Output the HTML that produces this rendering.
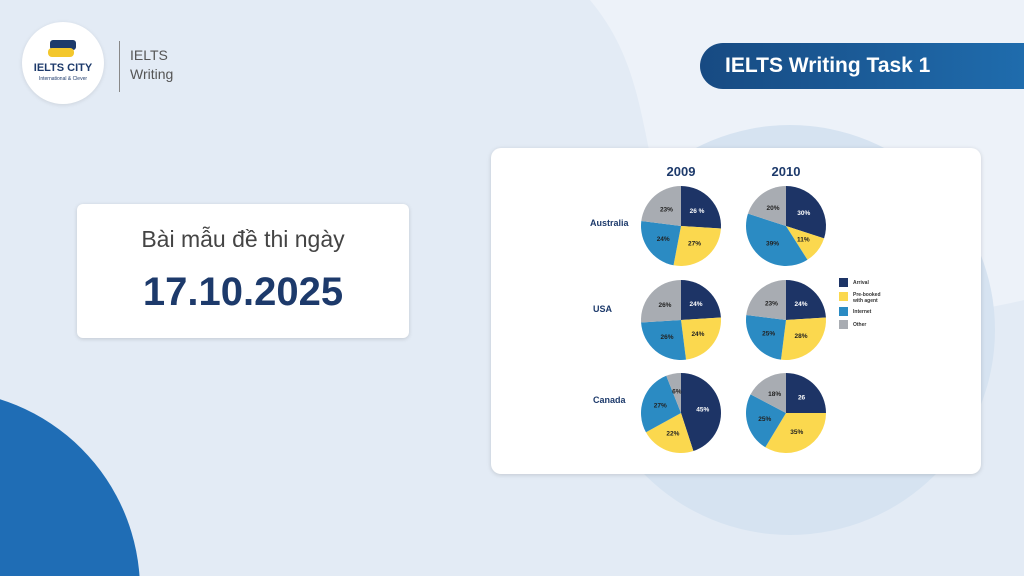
<!DOCTYPE html>
<html style="overflow:hidden"><head><meta charset="utf-8"><style>
html,body{margin:0;width:1024px;height:576px;overflow:hidden}
body{position:relative;background:#e3ebf5;font-family:"Liberation Sans",sans-serif}
.abs{position:absolute}
</style></head><body>
<svg class="abs" style="left:0;top:0" width="1024" height="576">
<path d="M590 0 C640 60 640 120 660 200 C700 330 900 330 1024 300 L1024 0 Z" fill="#edf2f9"/>
<circle cx="790" cy="330" r="205" fill="#d6e3f1"/>
<circle cx="-60" cy="590" r="200" fill="#1f6db5"/>
</svg>
<div class="abs" style="left:22px;top:22px;width:82px;height:82px;border-radius:50%;background:#fff;box-shadow:0 1px 4px rgba(0,0,0,.1)">
 <div class="abs" style="left:28px;top:18px;width:26px;height:10px;background:#1d3a6b;border-radius:3px"></div>
 <div class="abs" style="left:26px;top:26px;width:26px;height:9px;background:#f3c72c;border-radius:4px"></div>
 <div class="abs" style="left:0;top:40px;width:82px;text-align:center;font-weight:bold;font-size:11px;color:#1d3a6b">IELTS CITY</div>
 <div class="abs" style="left:0;top:54px;width:82px;text-align:center;font-size:5px;color:#1d3a6b">International &amp; Clever</div>
</div>
<div class="abs" style="left:119px;top:41px;width:1px;height:51px;background:#888"></div>
<div class="abs" style="left:130px;top:46px;font-size:14px;line-height:19px;color:#555">IELTS<br>Writing</div>
<div class="abs" style="left:700px;top:43px;width:324px;height:46px;border-radius:23px 0 0 23px;background:linear-gradient(90deg,#174a82,#1f6cad)"></div>
<div class="abs" style="left:725px;top:54px;font-size:21px;font-weight:bold;color:#fff">IELTS Writing Task 1</div>
<div class="abs" style="left:77px;top:204px;width:332px;height:134px;background:#fff;border-radius:6px;box-shadow:0 1px 4px rgba(0,0,0,.15)">
 <div class="abs" style="left:0;top:22px;width:332px;text-align:center;font-size:23px;color:#444">Bài mẫu đề thi ngày</div>
 <div class="abs" style="left:0;top:66px;width:332px;text-align:center;font-size:40px;font-weight:bold;color:#1d3a6b">17.10.2025</div>
</div>
<div class="abs" style="left:491px;top:148px;width:490px;height:326px;background:#fff;border-radius:10px;box-shadow:0 1px 5px rgba(0,0,0,.15)"></div>
<svg id="ch" class="abs" style="left:0;top:0" width="1024" height="576" font-family="Liberation Sans" font-weight="bold">
<text x="681" y="176" text-anchor="middle" font-size="13" fill="#1d3a6b">2009</text>
<text x="786" y="176" text-anchor="middle" font-size="13" fill="#1d3a6b">2010</text>
<text x="590" y="226" font-size="9" fill="#1d3a6b">Australia</text>
<text x="593" y="312" font-size="9" fill="#1d3a6b">USA</text>
<text x="593" y="403" font-size="9" fill="#1d3a6b">Canada</text>
<rect x="839" y="278" width="9" height="9" fill="#1d3466"/><text x="853" y="284" font-size="5" fill="#333">Arrival</text>
<rect x="839" y="292" width="9" height="9" fill="#fbd84e"/><text x="853" y="296" font-size="5" fill="#333">Pre-booked</text><text x="853" y="302" font-size="5" fill="#333">with agent</text>
<rect x="839" y="307" width="9" height="9" fill="#2b8bc3"/><text x="853" y="313" font-size="5" fill="#333">Internet</text>
<rect x="839" y="320" width="9" height="9" fill="#a8acb2"/><text x="853" y="326" font-size="5" fill="#333">Other</text>
</svg>
<script>
var cols=["#1d3466","#fbd84e","#2b8bc3","#a8acb2"],tc=["#fff","#222","#222","#222"];
var pies=[[681,226,[26,27,24,23],["26 %","27%","24%","23%"]],[786,226,[30,11,39,20],["30%","11%","39%","20%"]],
[681,320,[24,24,26,26],["24%","24%","26%","26%"]],[786,320,[24,28,25,23],["24%","28%","25%","23%"]],
[681,413,[45,22,27,6],["45%","22%","27%","6%"]],[786,413,[26,35,25,18],["26","35%","25%","18%"]]];
var s=document.getElementById("ch"),h="",r=40;
pies.forEach(function(p){var tot=p[2].reduce(function(a,b){return a+b}),a=0;
p[2].forEach(function(v,i){var a0=a/tot*2*Math.PI,a1=(a+v)/tot*2*Math.PI;a+=v;
var x0=p[0]+r*Math.sin(a0),y0=p[1]-r*Math.cos(a0),x1=p[0]+r*Math.sin(a1),y1=p[1]-r*Math.cos(a1);
h+='<path d="M'+p[0]+' '+p[1]+'L'+x0+' '+y0+'A'+r+' '+r+' 0 '+((a1-a0)>Math.PI?1:0)+' 1 '+x1+' '+y1+'Z" fill="'+cols[i]+'"/>';
var am=(a0+a1)/2,rr=r*0.55;
h+='<text x="'+(p[0]+rr*Math.sin(am))+'" y="'+(p[1]-rr*Math.cos(am)+2)+'" text-anchor="middle" font-size="6.5" fill="'+tc[i]+'">'+p[3][i]+'</text>';});});
s.insertAdjacentHTML("beforeend",h);
</script>
</body></html>
